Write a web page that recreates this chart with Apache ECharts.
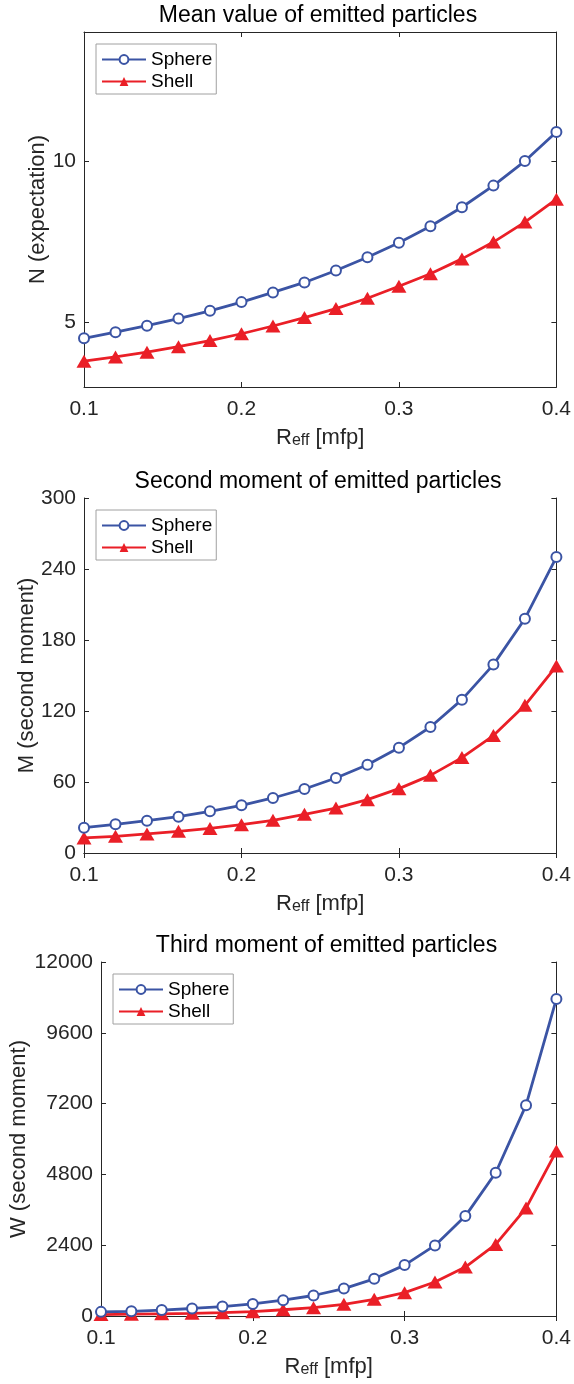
<!DOCTYPE html>
<html>
<head>
<meta charset="utf-8">
<script src="https://cdn.jsdelivr.net/npm/echarts@6/dist/echarts.min.js"></script>
<style>
html,body{margin:0;padding:0;background:#fff;}
#chart{width:574px;height:1384px;}
</style>
</head>
<body>
<div id="chart"></div>
<script>
// ---- data ----
const xValues = [0.10,0.12,0.14,0.16,0.18,0.20,0.22,0.24,0.26,0.28,0.30,0.32,0.34,0.36,0.38,0.40];
const meanSphere = [4.51,4.70,4.90,5.12,5.36,5.63,5.93,6.24,6.61,7.02,7.47,7.98,8.57,9.24,10.00,10.90];
const meanShell = [3.80,3.93,4.08,4.25,4.44,4.65,4.89,5.15,5.43,5.75,6.12,6.51,6.97,7.49,8.11,8.82];
const secondSphere = [21.4,24.2,27.3,30.7,35.2,40.3,46.5,54.1,63.4,74.6,89.0,106.5,129.6,159.2,198.0,250.1];
const secondShell = [12.7,14.1,16.1,18.3,20.8,23.9,27.6,32.7,38.0,45.1,54.4,65.6,80.6,99.2,124.8,158.0];
const thirdSphere = [140,160,200,255,320,410,535,695,930,1260,1725,2393,3387,4855,7146,10748];
const thirdShell = [50,62,75,90,112,147,212,282,395,565,790,1152,1660,2427,3658,5589];
const seriesNames = ['Sphere','Shell'];
const titles = ['Mean value of emitted particles','Second moment of emitted particles','Third moment of emitted particles'];
const yNames = ['N (expectation)','M (second moment)','W (second moment)'];
const yTicks1 = [5,10];

// ---- styles ----
const BLUE = '#3b54a4';
const RED = '#ea1f27';
const AX = '#262626';
const FONT = '"Liberation Sans", Arial, Helvetica, sans-serif';

const grids = [
  {left:84, top:32, width:476, height:355},
  {left:84, top:498, width:476, height:355},
  {left:101, top:962, width:459, height:354}
];
const yRanges = [
  {min:3, max:14, custom: yTicks1},
  {min:0, max:300, interval:60},
  {min:0, max:12000, interval:2400}
];
const yNameGaps = [35, 46, 71];

const pair = (xs, ys) => xs.map((x,i)=>[x, ys[i]]);
const dataSets = [[meanSphere, meanShell],[secondSphere, secondShell],[thirdSphere, thirdShell]];

const xAxes = [], yAxes = [], series = [], legends = [], titleOpts = [];
grids.forEach((g, gi) => {
  const xBase = {
    type:'value', gridIndex:gi, min:0.1, max:0.4, interval:0.1,
    axisLine:{show:true, lineStyle:{color:AX, width:1}},
    axisTick:{show:true, inside:true, length:5, lineStyle:{color:AX}},
    splitLine:{show:false}
  };
  xAxes.push(Object.assign({}, xBase, {
    position:'bottom',
    axisLabel:{show:true, fontSize:21, fontFamily:FONT, color:AX, margin:12,
      formatter:(v)=>v.toFixed(1)},
    name:'{r|R}{s|eff}{r| [mfp]}', nameLocation:'middle', nameGap:40, nameMoveOverlap:false,
    nameTextStyle:{fontFamily:FONT, color:AX,
      rich:{
        r:{fontSize:22, fontFamily:FONT, color:AX, lineHeight:22, verticalAlign:'top'},
        s:{fontSize:16, fontFamily:FONT, color:AX, lineHeight:16, verticalAlign:'bottom', padding:[16,0,0,0]}
      }}
  }));
  xAxes.push(Object.assign({}, xBase, {position:'top', axisLabel:{show:false}}));

  const yr = yRanges[gi];
  const yBase = {
    type:'value', gridIndex:gi, min:yr.min, max:yr.max,
    axisLine:{show:true, lineStyle:{color:AX, width:1}},
    axisTick:{show:true, inside:true, length:5, lineStyle:{color:AX}},
    splitLine:{show:false}
  };
  if (yr.interval) yBase.interval = yr.interval;
  if (yr.custom) yBase.axisTick.customValues = yr.custom;
  yAxes.push(Object.assign({}, yBase, {
    position:'left',
    axisLabel:Object.assign({show:true, fontSize:21, fontFamily:FONT, color:AX, margin:8,
      formatter:(v)=>String(v)},
      yr.custom ? {customValues: yr.custom} : {}),
    name: yNames[gi], nameLocation:'middle', nameGap:yNameGaps[gi], nameRotate:90, nameMoveOverlap:false,
    nameTextStyle:{fontSize:22, fontFamily:FONT, color:AX}
  }));
  yAxes.push(Object.assign({}, yBase, {position:'right', axisLabel:{show:false}}));

  const [sph, shl] = dataSets[gi];
  series.push({
    name:seriesNames[0], type:'line', xAxisIndex:gi*2, yAxisIndex:gi*2,
    data:pair(xValues, sph), symbol:'emptyCircle', symbolSize:10,
    lineStyle:{color:BLUE, width:2.8}, itemStyle:{color:BLUE, borderWidth:2.5}, z:3
  });
  series.push({
    name:seriesNames[1], type:'line', xAxisIndex:gi*2, yAxisIndex:gi*2,
    data:pair(xValues, shl), symbol:'triangle', symbolSize:[15,13],
    lineStyle:{color:RED, width:2.8}, itemStyle:{color:RED}, z:2
  });

  legends.push({
    orient:'vertical', left:g.left+12, top:g.top+12,
    data:seriesNames, itemWidth:44, itemHeight:11, itemGap:3,
    padding:[6,4,3,5], borderColor:'#a0a0a0', borderWidth:1, backgroundColor:'#fff',
    textStyle:{fontSize:19, fontFamily:FONT, color:'#000'},
    selectedMode:false
  });

  const tCenterY = [15, 481, 945][gi];
  titleOpts.push({
    text:titles[gi], left:g.left + g.width/2 - 4, textAlign:'center', top:tCenterY-11, padding:0,
    textStyle:{fontSize:23, fontWeight:'normal', fontFamily:FONT, color:'#000'}
  });
});

const chart = echarts.init(document.getElementById('chart'), null, {renderer:'canvas'});
chart.setOption({
  animation:false,
  backgroundColor:'#fff',
  title:titleOpts,
  grid:grids.map(g=>Object.assign({containLabel:false}, g)),
  xAxis:xAxes, yAxis:yAxes, legend:legends, series:series
});
</script>
</body>
</html>
